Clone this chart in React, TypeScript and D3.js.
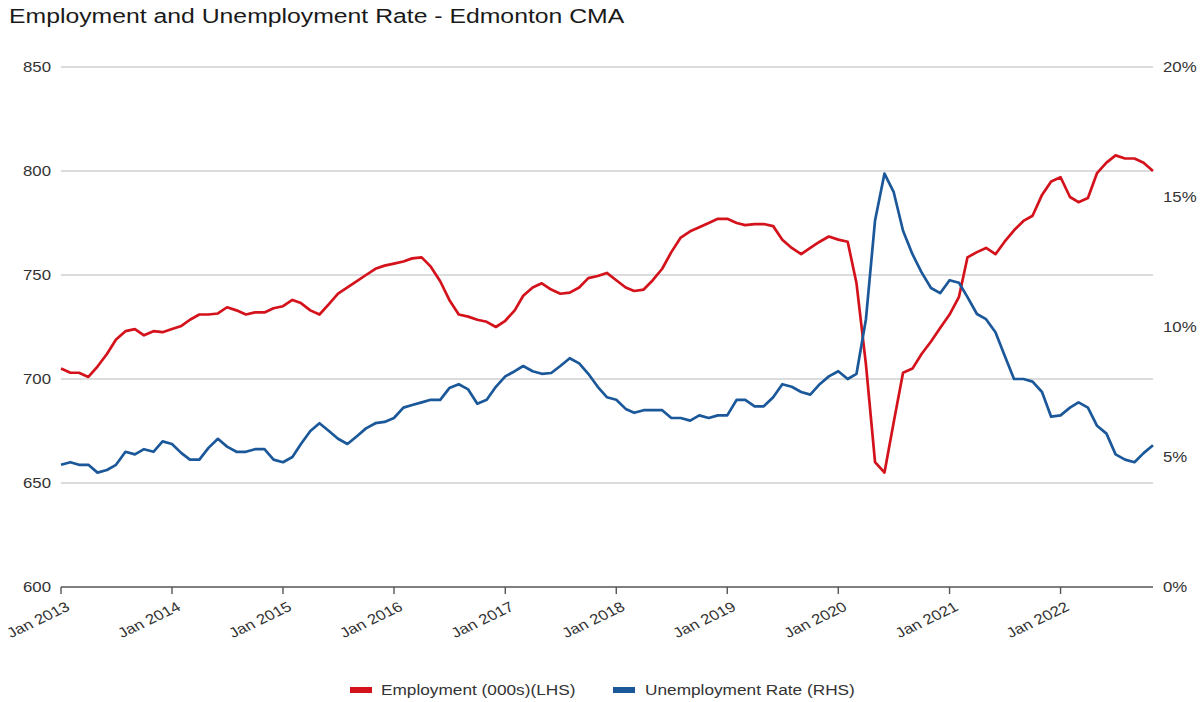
import React from "react";
import * as d3 from "d3";

const TITLE = "Employment and Unemployment Rate - Edmonton CMA";
const START_YEAR = 2013;
const employment: number[] = [
  705, 703, 703, 701, 706, 712, 719, 723, 724, 721, 723, 722.5,
  724, 725.5, 728.5, 731, 731, 731.5, 734.5, 733, 731, 732, 732, 734,
  735, 738, 736.5, 733, 731, 736, 741, 744, 747, 750, 753, 754.5,
  755.5, 756.5, 758, 758.5, 754, 747, 738, 731, 730, 728.5, 727.5, 725,
  728, 733, 740, 744, 746, 743, 741, 741.5, 744, 748.5, 749.5, 751,
  747.5, 744, 742.3, 743, 747.5, 753, 761, 768, 771, 773, 775, 777,
  777, 775, 774, 774.5, 774.5, 773.5, 767, 763, 760, 763, 766, 768.5,
  767, 766, 746, 707, 660, 655, 679, 703, 705, 712, 718, 724.5,
  731, 739.5, 758.5, 761, 763, 760, 766, 771.5, 776, 778.5, 788.5, 795,
  797, 787.5, 785, 787, 799, 804, 807.5, 806, 806, 804, 800,
];
const unemployment: number[] = [
  4.7, 4.8, 4.7, 4.7, 4.4, 4.5, 4.7, 5.2, 5.1, 5.3, 5.2, 5.6,
  5.5, 5.15, 4.9, 4.9, 5.35, 5.7, 5.4, 5.2, 5.2, 5.3, 5.3, 4.9,
  4.8, 5.0, 5.5, 6.0, 6.3, 6.0, 5.7, 5.5, 5.8, 6.1, 6.3, 6.35,
  6.5, 6.9, 7.0, 7.1, 7.2, 7.2, 7.65, 7.8, 7.6, 7.05, 7.2, 7.7,
  8.1, 8.3, 8.5, 8.3, 8.2, 8.23, 8.5, 8.8, 8.6, 8.2, 7.7, 7.3,
  7.2, 6.85, 6.7, 6.8, 6.8, 6.8, 6.5, 6.5, 6.4, 6.6, 6.5, 6.6,
  6.6, 7.2, 7.2, 6.95, 6.95, 7.3, 7.8, 7.7, 7.5, 7.4, 7.8, 8.1,
  8.3, 8.0, 8.2, 10.3, 14.1, 15.9, 15.2, 13.7, 12.8, 12.1, 11.5, 11.3,
  11.8, 11.7, 11.15, 10.5, 10.3, 9.8, 8.9, 8.0, 8.0, 7.9, 7.5, 6.55,
  6.6, 6.9, 7.1, 6.9, 6.2, 5.9, 5.1, 4.9, 4.8, 5.15, 5.45,
];
const leftTicks = [600, 650, 700, 750, 800, 850];
const rightTicks = [0, 5, 10, 15, 20];
const tickYears = [2013, 2014, 2015, 2016, 2017, 2018, 2019, 2020, 2021, 2022];
const seriesNames = ["Employment (000s)(LHS)", "Unemployment Rate (RHS)"];
const seriesColors = ["#d4121c", "#1b5899"];

const W = 1201;
const H = 702;
const FONT = "'Liberation Sans', Arial, sans-serif";
const SX = 1.2; // horizontal stretch of text

export default function App() {
  const dates = employment.map((_, i) => new Date(START_YEAR, i, 1));
  const x = d3
    .scaleTime()
    .domain([dates[0], dates[dates.length - 1]])
    .range([61, 1153]);
  const yL = d3.scaleLinear().domain([600, 850]).range([587, 67]);
  const yR = d3.scaleLinear().domain([0, 20]).range([587, 67]);

  const lineEmp = d3
    .line<number>()
    .x((_, i) => x(dates[i]))
    .y((d) => yL(d));
  const lineUnemp = d3
    .line<number>()
    .x((_, i) => x(dates[i]))
    .y((d) => yR(d));

  const [x0, x1] = x.range();

  return (
    <svg
      width={W}
      height={H}
      style={{ position: "absolute", left: 0, top: 0, background: "#fff" }}
      fontFamily={FONT}
    >
      <rect x={0} y={0} width={W} height={H} fill="#fff" />
      <text
        transform={`translate(9,23) scale(1.18,1)`}
        fontSize={21}
        fill="#1a1a1a"
      >
        {TITLE}
      </text>

      {/* gridlines */}
      {leftTicks
        .filter((t) => t !== 600)
        .map((t) => (
          <line
            key={"g" + t}
            x1={x0}
            x2={x1}
            y1={yL(t)}
            y2={yL(t)}
            stroke="#d0d0d0"
            strokeWidth={1.7}
          />
        ))}

      {/* left tick labels */}
      {leftTicks.map((t) => (
        <text
          key={"l" + t}
          transform={`translate(51,${yL(t)}) scale(${SX},1)`}
          dy="0.35em"
          textAnchor="end"
          fontSize={14}
          fill="#333"
        >
          {t}
        </text>
      ))}

      {/* right tick labels */}
      {rightTicks.map((t) => (
        <text
          key={"r" + t}
          transform={`translate(1163,${yR(t)}) scale(${SX},1)`}
          dy="0.35em"
          textAnchor="start"
          fontSize={14}
          fill="#333"
        >
          {t + "%"}
        </text>
      ))}

      {/* x axis */}
      <line x1={x0} x2={x1} y1={587} y2={587} stroke="#555" strokeWidth={1.6} />
      {tickYears.map((yr) => {
        const px = x(new Date(yr, 0, 1));
        return (
          <g key={"x" + yr}>
            <line x1={px} x2={px} y1={587} y2={594} stroke="#555" strokeWidth={1.4} />
            <text
              transform={`translate(${px + 4},${601}) scale(${SX},1) rotate(-30)`}
              textAnchor="end"
              dy="0.7em"
              fontSize={14}
              fill="#333"
            >
              {`Jan ${yr}`}
            </text>
          </g>
        );
      })}

      {/* lines */}
      <path
        d={lineEmp(employment) || ""}
        fill="none"
        stroke={seriesColors[0]}
        strokeWidth={2.7}
        strokeLinejoin="round"
      />
      <path
        d={lineUnemp(unemployment) || ""}
        fill="none"
        stroke={seriesColors[1]}
        strokeWidth={2.7}
        strokeLinejoin="round"
      />

      {/* legend */}
      <g>
        <rect x={350} y={687} width={22} height={6} fill={seriesColors[0]} />
        <text
          transform={`translate(381,690) scale(1.15,1)`}
          dy="0.35em"
          fontSize={15}
          fill="#333"
        >
          {seriesNames[0]}
        </text>
        <rect x={613} y={687} width={22} height={6} fill={seriesColors[1]} />
        <text
          transform={`translate(645,690) scale(1.15,1)`}
          dy="0.35em"
          fontSize={15}
          fill="#333"
        >
          {seriesNames[1]}
        </text>
      </g>
    </svg>
  );
}
